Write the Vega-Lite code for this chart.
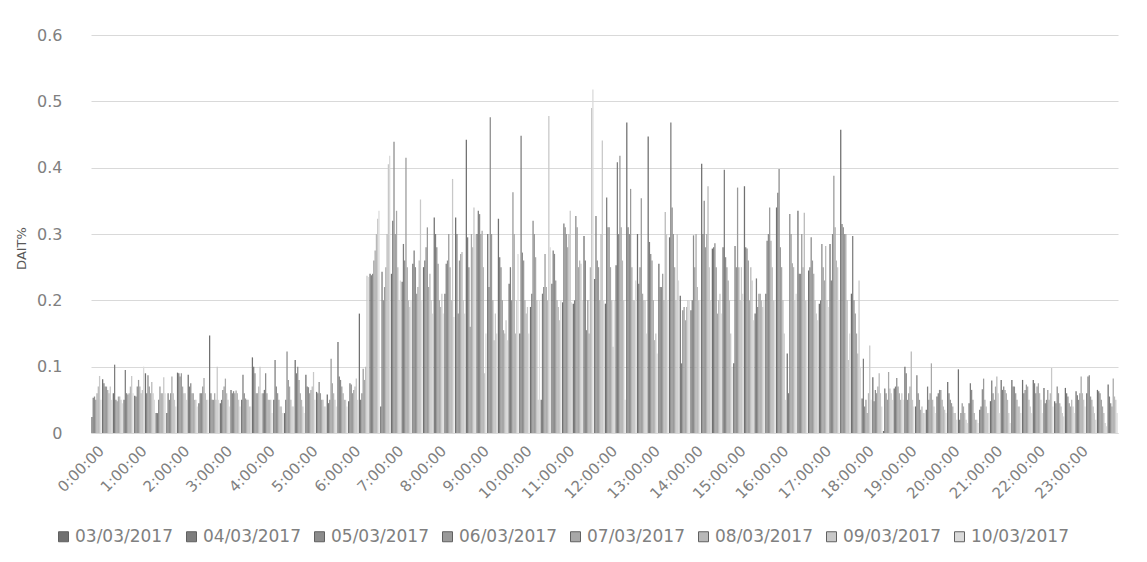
{"$schema":"https://vega.github.io/schema/vega-lite/v6.json","width":1027,"height":398,"autosize":{"type":"none"},"padding":{"left":91,"top":35,"right":29,"bottom":129},"background":"white","config":{"view":{"stroke":null},"font":"DejaVu Sans"},
"data":{"values":[
{"t":"0:00:00","d":"03/03/2017","v":0.024},{"t":"0:00:00","d":"04/03/2017","v":0.053},{"t":"0:00:00","d":"05/03/2017","v":0.055},{"t":"0:00:00","d":"06/03/2017","v":0.05},{"t":"0:00:00","d":"07/03/2017","v":0.06},{"t":"0:00:00","d":"08/03/2017","v":0.07},{"t":"0:00:00","d":"09/03/2017","v":0.086},{"t":"0:00:00","d":"10/03/2017","v":0.05},
{"t":"0:15:00","d":"03/03/2017","v":0.081},{"t":"0:15:00","d":"04/03/2017","v":0.075},{"t":"0:15:00","d":"05/03/2017","v":0.07},{"t":"0:15:00","d":"06/03/2017","v":0.07},{"t":"0:15:00","d":"07/03/2017","v":0.065},{"t":"0:15:00","d":"08/03/2017","v":0.06},{"t":"0:15:00","d":"09/03/2017","v":0.07},{"t":"0:15:00","d":"10/03/2017","v":0.05},
{"t":"0:30:00","d":"03/03/2017","v":0.06},{"t":"0:30:00","d":"04/03/2017","v":0.103},{"t":"0:30:00","d":"05/03/2017","v":0.05},{"t":"0:30:00","d":"06/03/2017","v":0.048},{"t":"0:30:00","d":"07/03/2017","v":0.055},{"t":"0:30:00","d":"08/03/2017","v":0.055},{"t":"0:30:00","d":"09/03/2017","v":0.05},{"t":"0:30:00","d":"10/03/2017","v":0.045},
{"t":"0:45:00","d":"03/03/2017","v":0.05},{"t":"0:45:00","d":"04/03/2017","v":0.095},{"t":"0:45:00","d":"05/03/2017","v":0.06},{"t":"0:45:00","d":"06/03/2017","v":0.058},{"t":"0:45:00","d":"07/03/2017","v":0.06},{"t":"0:45:00","d":"08/03/2017","v":0.07},{"t":"0:45:00","d":"09/03/2017","v":0.086},{"t":"0:45:00","d":"10/03/2017","v":0.06},
{"t":"1:00:00","d":"03/03/2017","v":0.056},{"t":"1:00:00","d":"04/03/2017","v":0.055},{"t":"1:00:00","d":"05/03/2017","v":0.07},{"t":"1:00:00","d":"06/03/2017","v":0.08},{"t":"1:00:00","d":"07/03/2017","v":0.07},{"t":"1:00:00","d":"08/03/2017","v":0.06},{"t":"1:00:00","d":"09/03/2017","v":0.065},{"t":"1:00:00","d":"10/03/2017","v":0.1},
{"t":"1:15:00","d":"03/03/2017","v":0.09},{"t":"1:15:00","d":"04/03/2017","v":0.06},{"t":"1:15:00","d":"05/03/2017","v":0.087},{"t":"1:15:00","d":"06/03/2017","v":0.07},{"t":"1:15:00","d":"07/03/2017","v":0.06},{"t":"1:15:00","d":"08/03/2017","v":0.077},{"t":"1:15:00","d":"09/03/2017","v":0.06},{"t":"1:15:00","d":"10/03/2017","v":0.05},
{"t":"1:30:00","d":"03/03/2017","v":0.03},{"t":"1:30:00","d":"04/03/2017","v":0.03},{"t":"1:30:00","d":"05/03/2017","v":0.05},{"t":"1:30:00","d":"06/03/2017","v":0.07},{"t":"1:30:00","d":"07/03/2017","v":0.06},{"t":"1:30:00","d":"08/03/2017","v":0.06},{"t":"1:30:00","d":"09/03/2017","v":0.084},{"t":"1:30:00","d":"10/03/2017","v":0.06},
{"t":"1:45:00","d":"03/03/2017","v":0.03},{"t":"1:45:00","d":"04/03/2017","v":0.06},{"t":"1:45:00","d":"05/03/2017","v":0.05},{"t":"1:45:00","d":"06/03/2017","v":0.06},{"t":"1:45:00","d":"07/03/2017","v":0.085},{"t":"1:45:00","d":"08/03/2017","v":0.06},{"t":"1:45:00","d":"09/03/2017","v":0.05},{"t":"1:45:00","d":"10/03/2017","v":0.04},
{"t":"2:00:00","d":"03/03/2017","v":0.091},{"t":"2:00:00","d":"04/03/2017","v":0.09},{"t":"2:00:00","d":"05/03/2017","v":0.085},{"t":"2:00:00","d":"06/03/2017","v":0.09},{"t":"2:00:00","d":"07/03/2017","v":0.07},{"t":"2:00:00","d":"08/03/2017","v":0.06},{"t":"2:00:00","d":"09/03/2017","v":0.06},{"t":"2:00:00","d":"10/03/2017","v":0.05},
{"t":"2:15:00","d":"03/03/2017","v":0.088},{"t":"2:15:00","d":"04/03/2017","v":0.07},{"t":"2:15:00","d":"05/03/2017","v":0.075},{"t":"2:15:00","d":"06/03/2017","v":0.06},{"t":"2:15:00","d":"07/03/2017","v":0.06},{"t":"2:15:00","d":"08/03/2017","v":0.05},{"t":"2:15:00","d":"09/03/2017","v":0.05},{"t":"2:15:00","d":"10/03/2017","v":0.04},
{"t":"2:30:00","d":"03/03/2017","v":0.045},{"t":"2:30:00","d":"04/03/2017","v":0.06},{"t":"2:30:00","d":"05/03/2017","v":0.06},{"t":"2:30:00","d":"06/03/2017","v":0.07},{"t":"2:30:00","d":"07/03/2017","v":0.083},{"t":"2:30:00","d":"08/03/2017","v":0.06},{"t":"2:30:00","d":"09/03/2017","v":0.05},{"t":"2:30:00","d":"10/03/2017","v":0.05},
{"t":"2:45:00","d":"03/03/2017","v":0.147},{"t":"2:45:00","d":"04/03/2017","v":0.06},{"t":"2:45:00","d":"05/03/2017","v":0.05},{"t":"2:45:00","d":"06/03/2017","v":0.05},{"t":"2:45:00","d":"07/03/2017","v":0.06},{"t":"2:45:00","d":"08/03/2017","v":0.05},{"t":"2:45:00","d":"09/03/2017","v":0.1},{"t":"2:45:00","d":"10/03/2017","v":0.05},
{"t":"3:00:00","d":"03/03/2017","v":0.045},{"t":"3:00:00","d":"04/03/2017","v":0.05},{"t":"3:00:00","d":"05/03/2017","v":0.065},{"t":"3:00:00","d":"06/03/2017","v":0.07},{"t":"3:00:00","d":"07/03/2017","v":0.082},{"t":"3:00:00","d":"08/03/2017","v":0.06},{"t":"3:00:00","d":"09/03/2017","v":0.05},{"t":"3:00:00","d":"10/03/2017","v":0.04},
{"t":"3:15:00","d":"03/03/2017","v":0.065},{"t":"3:15:00","d":"04/03/2017","v":0.06},{"t":"3:15:00","d":"05/03/2017","v":0.063},{"t":"3:15:00","d":"06/03/2017","v":0.06},{"t":"3:15:00","d":"07/03/2017","v":0.064},{"t":"3:15:00","d":"08/03/2017","v":0.06},{"t":"3:15:00","d":"09/03/2017","v":0.05},{"t":"3:15:00","d":"10/03/2017","v":0.04},
{"t":"3:30:00","d":"03/03/2017","v":0.05},{"t":"3:30:00","d":"04/03/2017","v":0.088},{"t":"3:30:00","d":"05/03/2017","v":0.06},{"t":"3:30:00","d":"06/03/2017","v":0.052},{"t":"3:30:00","d":"07/03/2017","v":0.05},{"t":"3:30:00","d":"08/03/2017","v":0.05},{"t":"3:30:00","d":"09/03/2017","v":0.04},{"t":"3:30:00","d":"10/03/2017","v":0.04},
{"t":"3:45:00","d":"03/03/2017","v":0.114},{"t":"3:45:00","d":"04/03/2017","v":0.1},{"t":"3:45:00","d":"05/03/2017","v":0.09},{"t":"3:45:00","d":"06/03/2017","v":0.06},{"t":"3:45:00","d":"07/03/2017","v":0.06},{"t":"3:45:00","d":"08/03/2017","v":0.07},{"t":"3:45:00","d":"09/03/2017","v":0.1},{"t":"3:45:00","d":"10/03/2017","v":0.06},
{"t":"4:00:00","d":"03/03/2017","v":0.06},{"t":"4:00:00","d":"04/03/2017","v":0.065},{"t":"4:00:00","d":"05/03/2017","v":0.09},{"t":"4:00:00","d":"06/03/2017","v":0.06},{"t":"4:00:00","d":"07/03/2017","v":0.05},{"t":"4:00:00","d":"08/03/2017","v":0.05},{"t":"4:00:00","d":"09/03/2017","v":0.05},{"t":"4:00:00","d":"10/03/2017","v":0.03},
{"t":"4:15:00","d":"03/03/2017","v":0.05},{"t":"4:15:00","d":"04/03/2017","v":0.11},{"t":"4:15:00","d":"05/03/2017","v":0.07},{"t":"4:15:00","d":"06/03/2017","v":0.06},{"t":"4:15:00","d":"07/03/2017","v":0.05},{"t":"4:15:00","d":"08/03/2017","v":0.04},{"t":"4:15:00","d":"09/03/2017","v":0.04},{"t":"4:15:00","d":"10/03/2017","v":0.03},
{"t":"4:30:00","d":"03/03/2017","v":0.03},{"t":"4:30:00","d":"04/03/2017","v":0.05},{"t":"4:30:00","d":"05/03/2017","v":0.123},{"t":"4:30:00","d":"06/03/2017","v":0.08},{"t":"4:30:00","d":"07/03/2017","v":0.07},{"t":"4:30:00","d":"08/03/2017","v":0.05},{"t":"4:30:00","d":"09/03/2017","v":0.04},{"t":"4:30:00","d":"10/03/2017","v":0.04},
{"t":"4:45:00","d":"03/03/2017","v":0.11},{"t":"4:45:00","d":"04/03/2017","v":0.09},{"t":"4:45:00","d":"05/03/2017","v":0.1},{"t":"4:45:00","d":"06/03/2017","v":0.08},{"t":"4:45:00","d":"07/03/2017","v":0.06},{"t":"4:45:00","d":"08/03/2017","v":0.05},{"t":"4:45:00","d":"09/03/2017","v":0.04},{"t":"4:45:00","d":"10/03/2017","v":0.03},
{"t":"5:00:00","d":"03/03/2017","v":0.088},{"t":"5:00:00","d":"04/03/2017","v":0.07},{"t":"5:00:00","d":"05/03/2017","v":0.069},{"t":"5:00:00","d":"06/03/2017","v":0.06},{"t":"5:00:00","d":"07/03/2017","v":0.065},{"t":"5:00:00","d":"08/03/2017","v":0.07},{"t":"5:00:00","d":"09/03/2017","v":0.092},{"t":"5:00:00","d":"10/03/2017","v":0.05},
{"t":"5:15:00","d":"03/03/2017","v":0.062},{"t":"5:15:00","d":"04/03/2017","v":0.06},{"t":"5:15:00","d":"05/03/2017","v":0.077},{"t":"5:15:00","d":"06/03/2017","v":0.06},{"t":"5:15:00","d":"07/03/2017","v":0.05},{"t":"5:15:00","d":"08/03/2017","v":0.05},{"t":"5:15:00","d":"09/03/2017","v":0.04},{"t":"5:15:00","d":"10/03/2017","v":0.04},
{"t":"5:30:00","d":"03/03/2017","v":0.058},{"t":"5:30:00","d":"04/03/2017","v":0.045},{"t":"5:30:00","d":"05/03/2017","v":0.05},{"t":"5:30:00","d":"06/03/2017","v":0.112},{"t":"5:30:00","d":"07/03/2017","v":0.075},{"t":"5:30:00","d":"08/03/2017","v":0.06},{"t":"5:30:00","d":"09/03/2017","v":0.05},{"t":"5:30:00","d":"10/03/2017","v":0.04},
{"t":"5:45:00","d":"03/03/2017","v":0.137},{"t":"5:45:00","d":"04/03/2017","v":0.085},{"t":"5:45:00","d":"05/03/2017","v":0.08},{"t":"5:45:00","d":"06/03/2017","v":0.07},{"t":"5:45:00","d":"07/03/2017","v":0.06},{"t":"5:45:00","d":"08/03/2017","v":0.05},{"t":"5:45:00","d":"09/03/2017","v":0.05},{"t":"5:45:00","d":"10/03/2017","v":0.04},
{"t":"6:00:00","d":"03/03/2017","v":0.048},{"t":"6:00:00","d":"04/03/2017","v":0.075},{"t":"6:00:00","d":"05/03/2017","v":0.073},{"t":"6:00:00","d":"06/03/2017","v":0.06},{"t":"6:00:00","d":"07/03/2017","v":0.065},{"t":"6:00:00","d":"08/03/2017","v":0.07},{"t":"6:00:00","d":"09/03/2017","v":0.082},{"t":"6:00:00","d":"10/03/2017","v":0.05},
{"t":"6:15:00","d":"03/03/2017","v":0.18},{"t":"6:15:00","d":"04/03/2017","v":0.05},{"t":"6:15:00","d":"05/03/2017","v":0.06},{"t":"6:15:00","d":"06/03/2017","v":0.097},{"t":"6:15:00","d":"07/03/2017","v":0.08},{"t":"6:15:00","d":"08/03/2017","v":0.1},{"t":"6:15:00","d":"09/03/2017","v":0.237},{"t":"6:15:00","d":"10/03/2017","v":0.235},
{"t":"6:30:00","d":"03/03/2017","v":0.24},{"t":"6:30:00","d":"04/03/2017","v":0.238},{"t":"6:30:00","d":"05/03/2017","v":0.24},{"t":"6:30:00","d":"06/03/2017","v":0.26},{"t":"6:30:00","d":"07/03/2017","v":0.275},{"t":"6:30:00","d":"08/03/2017","v":0.3},{"t":"6:30:00","d":"09/03/2017","v":0.323},{"t":"6:30:00","d":"10/03/2017","v":0.335},
{"t":"6:45:00","d":"03/03/2017","v":0.04},{"t":"6:45:00","d":"04/03/2017","v":0.243},{"t":"6:45:00","d":"05/03/2017","v":0.2},{"t":"6:45:00","d":"06/03/2017","v":0.22},{"t":"6:45:00","d":"07/03/2017","v":0.25},{"t":"6:45:00","d":"08/03/2017","v":0.3},{"t":"6:45:00","d":"09/03/2017","v":0.405},{"t":"6:45:00","d":"10/03/2017","v":0.418},
{"t":"7:00:00","d":"03/03/2017","v":0.24},{"t":"7:00:00","d":"04/03/2017","v":0.32},{"t":"7:00:00","d":"05/03/2017","v":0.439},{"t":"7:00:00","d":"06/03/2017","v":0.3},{"t":"7:00:00","d":"07/03/2017","v":0.335},{"t":"7:00:00","d":"08/03/2017","v":0.25},{"t":"7:00:00","d":"09/03/2017","v":0.2},{"t":"7:00:00","d":"10/03/2017","v":0.23},
{"t":"7:15:00","d":"03/03/2017","v":0.228},{"t":"7:15:00","d":"04/03/2017","v":0.285},{"t":"7:15:00","d":"05/03/2017","v":0.26},{"t":"7:15:00","d":"06/03/2017","v":0.415},{"t":"7:15:00","d":"07/03/2017","v":0.25},{"t":"7:15:00","d":"08/03/2017","v":0.2},{"t":"7:15:00","d":"09/03/2017","v":0.19},{"t":"7:15:00","d":"10/03/2017","v":0.2},
{"t":"7:30:00","d":"03/03/2017","v":0.255},{"t":"7:30:00","d":"04/03/2017","v":0.275},{"t":"7:30:00","d":"05/03/2017","v":0.25},{"t":"7:30:00","d":"06/03/2017","v":0.21},{"t":"7:30:00","d":"07/03/2017","v":0.22},{"t":"7:30:00","d":"08/03/2017","v":0.26},{"t":"7:30:00","d":"09/03/2017","v":0.352},{"t":"7:30:00","d":"10/03/2017","v":0.2},
{"t":"7:45:00","d":"03/03/2017","v":0.25},{"t":"7:45:00","d":"04/03/2017","v":0.26},{"t":"7:45:00","d":"05/03/2017","v":0.28},{"t":"7:45:00","d":"06/03/2017","v":0.31},{"t":"7:45:00","d":"07/03/2017","v":0.22},{"t":"7:45:00","d":"08/03/2017","v":0.24},{"t":"7:45:00","d":"09/03/2017","v":0.2},{"t":"7:45:00","d":"10/03/2017","v":0.18},
{"t":"8:00:00","d":"03/03/2017","v":0.325},{"t":"8:00:00","d":"04/03/2017","v":0.3},{"t":"8:00:00","d":"05/03/2017","v":0.28},{"t":"8:00:00","d":"06/03/2017","v":0.255},{"t":"8:00:00","d":"07/03/2017","v":0.2},{"t":"8:00:00","d":"08/03/2017","v":0.19},{"t":"8:00:00","d":"09/03/2017","v":0.21},{"t":"8:00:00","d":"10/03/2017","v":0.18},
{"t":"8:15:00","d":"03/03/2017","v":0.21},{"t":"8:15:00","d":"04/03/2017","v":0.255},{"t":"8:15:00","d":"05/03/2017","v":0.26},{"t":"8:15:00","d":"06/03/2017","v":0.3},{"t":"8:15:00","d":"07/03/2017","v":0.25},{"t":"8:15:00","d":"08/03/2017","v":0.2},{"t":"8:15:00","d":"09/03/2017","v":0.383},{"t":"8:15:00","d":"10/03/2017","v":0.175},
{"t":"8:30:00","d":"03/03/2017","v":0.325},{"t":"8:30:00","d":"04/03/2017","v":0.3},{"t":"8:30:00","d":"05/03/2017","v":0.18},{"t":"8:30:00","d":"06/03/2017","v":0.26},{"t":"8:30:00","d":"07/03/2017","v":0.27},{"t":"8:30:00","d":"08/03/2017","v":0.273},{"t":"8:30:00","d":"09/03/2017","v":0.2},{"t":"8:30:00","d":"10/03/2017","v":0.18},
{"t":"8:45:00","d":"03/03/2017","v":0.442},{"t":"8:45:00","d":"04/03/2017","v":0.295},{"t":"8:45:00","d":"05/03/2017","v":0.25},{"t":"8:45:00","d":"06/03/2017","v":0.16},{"t":"8:45:00","d":"07/03/2017","v":0.3},{"t":"8:45:00","d":"08/03/2017","v":0.28},{"t":"8:45:00","d":"09/03/2017","v":0.34},{"t":"8:45:00","d":"10/03/2017","v":0.3},
{"t":"9:00:00","d":"03/03/2017","v":0.3},{"t":"9:00:00","d":"04/03/2017","v":0.335},{"t":"9:00:00","d":"05/03/2017","v":0.33},{"t":"9:00:00","d":"06/03/2017","v":0.3},{"t":"9:00:00","d":"07/03/2017","v":0.305},{"t":"9:00:00","d":"08/03/2017","v":0.25},{"t":"9:00:00","d":"09/03/2017","v":0.09},{"t":"9:00:00","d":"10/03/2017","v":0.15},
{"t":"9:15:00","d":"03/03/2017","v":0.3},{"t":"9:15:00","d":"04/03/2017","v":0.22},{"t":"9:15:00","d":"05/03/2017","v":0.476},{"t":"9:15:00","d":"06/03/2017","v":0.3},{"t":"9:15:00","d":"07/03/2017","v":0.2},{"t":"9:15:00","d":"08/03/2017","v":0.14},{"t":"9:15:00","d":"09/03/2017","v":0.18},{"t":"9:15:00","d":"10/03/2017","v":0.15},
{"t":"9:30:00","d":"03/03/2017","v":0.323},{"t":"9:30:00","d":"04/03/2017","v":0.265},{"t":"9:30:00","d":"05/03/2017","v":0.25},{"t":"9:30:00","d":"06/03/2017","v":0.2},{"t":"9:30:00","d":"07/03/2017","v":0.155},{"t":"9:30:00","d":"08/03/2017","v":0.15},{"t":"9:30:00","d":"09/03/2017","v":0.17},{"t":"9:30:00","d":"10/03/2017","v":0.14},
{"t":"9:45:00","d":"03/03/2017","v":0.225},{"t":"9:45:00","d":"04/03/2017","v":0.25},{"t":"9:45:00","d":"05/03/2017","v":0.2},{"t":"9:45:00","d":"06/03/2017","v":0.363},{"t":"9:45:00","d":"07/03/2017","v":0.3},{"t":"9:45:00","d":"08/03/2017","v":0.15},{"t":"9:45:00","d":"09/03/2017","v":0.2},{"t":"9:45:00","d":"10/03/2017","v":0.27},
{"t":"10:00:00","d":"03/03/2017","v":0.15},{"t":"10:00:00","d":"04/03/2017","v":0.448},{"t":"10:00:00","d":"05/03/2017","v":0.272},{"t":"10:00:00","d":"06/03/2017","v":0.26},{"t":"10:00:00","d":"07/03/2017","v":0.2},{"t":"10:00:00","d":"08/03/2017","v":0.18},{"t":"10:00:00","d":"09/03/2017","v":0.19},{"t":"10:00:00","d":"10/03/2017","v":0.15},
{"t":"10:15:00","d":"03/03/2017","v":0.19},{"t":"10:15:00","d":"04/03/2017","v":0.21},{"t":"10:15:00","d":"05/03/2017","v":0.32},{"t":"10:15:00","d":"06/03/2017","v":0.3},{"t":"10:15:00","d":"07/03/2017","v":0.265},{"t":"10:15:00","d":"08/03/2017","v":0.2},{"t":"10:15:00","d":"09/03/2017","v":0.05},{"t":"10:15:00","d":"10/03/2017","v":0.2},
{"t":"10:30:00","d":"03/03/2017","v":0.05},{"t":"10:30:00","d":"04/03/2017","v":0.21},{"t":"10:30:00","d":"05/03/2017","v":0.22},{"t":"10:30:00","d":"06/03/2017","v":0.27},{"t":"10:30:00","d":"07/03/2017","v":0.22},{"t":"10:30:00","d":"08/03/2017","v":0.2},{"t":"10:30:00","d":"09/03/2017","v":0.478},{"t":"10:30:00","d":"10/03/2017","v":0.28},
{"t":"10:45:00","d":"03/03/2017","v":0.225},{"t":"10:45:00","d":"04/03/2017","v":0.275},{"t":"10:45:00","d":"05/03/2017","v":0.27},{"t":"10:45:00","d":"06/03/2017","v":0.23},{"t":"10:45:00","d":"07/03/2017","v":0.2},{"t":"10:45:00","d":"08/03/2017","v":0.19},{"t":"10:45:00","d":"09/03/2017","v":0.17},{"t":"10:45:00","d":"10/03/2017","v":0.2},
{"t":"11:00:00","d":"03/03/2017","v":0.197},{"t":"11:00:00","d":"04/03/2017","v":0.316},{"t":"11:00:00","d":"05/03/2017","v":0.31},{"t":"11:00:00","d":"06/03/2017","v":0.3},{"t":"11:00:00","d":"07/03/2017","v":0.28},{"t":"11:00:00","d":"08/03/2017","v":0.3},{"t":"11:00:00","d":"09/03/2017","v":0.335},{"t":"11:00:00","d":"10/03/2017","v":0.197},
{"t":"11:15:00","d":"03/03/2017","v":0.195},{"t":"11:15:00","d":"04/03/2017","v":0.2},{"t":"11:15:00","d":"05/03/2017","v":0.327},{"t":"11:15:00","d":"06/03/2017","v":0.31},{"t":"11:15:00","d":"07/03/2017","v":0.25},{"t":"11:15:00","d":"08/03/2017","v":0.26},{"t":"11:15:00","d":"09/03/2017","v":0.255},{"t":"11:15:00","d":"10/03/2017","v":0.2},
{"t":"11:30:00","d":"03/03/2017","v":0.297},{"t":"11:30:00","d":"04/03/2017","v":0.26},{"t":"11:30:00","d":"05/03/2017","v":0.155},{"t":"11:30:00","d":"06/03/2017","v":0.2},{"t":"11:30:00","d":"07/03/2017","v":0.15},{"t":"11:30:00","d":"08/03/2017","v":0.25},{"t":"11:30:00","d":"09/03/2017","v":0.49},{"t":"11:30:00","d":"10/03/2017","v":0.518},
{"t":"11:45:00","d":"03/03/2017","v":0.232},{"t":"11:45:00","d":"04/03/2017","v":0.327},{"t":"11:45:00","d":"05/03/2017","v":0.26},{"t":"11:45:00","d":"06/03/2017","v":0.25},{"t":"11:45:00","d":"07/03/2017","v":0.2},{"t":"11:45:00","d":"08/03/2017","v":0.3},{"t":"11:45:00","d":"09/03/2017","v":0.441},{"t":"11:45:00","d":"10/03/2017","v":0.2},
{"t":"12:00:00","d":"03/03/2017","v":0.195},{"t":"12:00:00","d":"04/03/2017","v":0.355},{"t":"12:00:00","d":"05/03/2017","v":0.31},{"t":"12:00:00","d":"06/03/2017","v":0.31},{"t":"12:00:00","d":"07/03/2017","v":0.25},{"t":"12:00:00","d":"08/03/2017","v":0.2},{"t":"12:00:00","d":"09/03/2017","v":0.13},{"t":"12:00:00","d":"10/03/2017","v":0.2},
{"t":"12:15:00","d":"03/03/2017","v":0.253},{"t":"12:15:00","d":"04/03/2017","v":0.408},{"t":"12:15:00","d":"05/03/2017","v":0.3},{"t":"12:15:00","d":"06/03/2017","v":0.418},{"t":"12:15:00","d":"07/03/2017","v":0.31},{"t":"12:15:00","d":"08/03/2017","v":0.26},{"t":"12:15:00","d":"09/03/2017","v":0.2},{"t":"12:15:00","d":"10/03/2017","v":0.05},
{"t":"12:30:00","d":"03/03/2017","v":0.468},{"t":"12:30:00","d":"04/03/2017","v":0.31},{"t":"12:30:00","d":"05/03/2017","v":0.3},{"t":"12:30:00","d":"06/03/2017","v":0.368},{"t":"12:30:00","d":"07/03/2017","v":0.25},{"t":"12:30:00","d":"08/03/2017","v":0.2},{"t":"12:30:00","d":"09/03/2017","v":0.2},{"t":"12:30:00","d":"10/03/2017","v":0.23},
{"t":"12:45:00","d":"03/03/2017","v":0.3},{"t":"12:45:00","d":"04/03/2017","v":0.225},{"t":"12:45:00","d":"05/03/2017","v":0.25},{"t":"12:45:00","d":"06/03/2017","v":0.354},{"t":"12:45:00","d":"07/03/2017","v":0.21},{"t":"12:45:00","d":"08/03/2017","v":0.2},{"t":"12:45:00","d":"09/03/2017","v":0.2},{"t":"12:45:00","d":"10/03/2017","v":0.15},
{"t":"13:00:00","d":"03/03/2017","v":0.447},{"t":"13:00:00","d":"04/03/2017","v":0.288},{"t":"13:00:00","d":"05/03/2017","v":0.27},{"t":"13:00:00","d":"06/03/2017","v":0.26},{"t":"13:00:00","d":"07/03/2017","v":0.2},{"t":"13:00:00","d":"08/03/2017","v":0.14},{"t":"13:00:00","d":"09/03/2017","v":0.15},{"t":"13:00:00","d":"10/03/2017","v":0.12},
{"t":"13:15:00","d":"03/03/2017","v":0.255},{"t":"13:15:00","d":"04/03/2017","v":0.22},{"t":"13:15:00","d":"05/03/2017","v":0.22},{"t":"13:15:00","d":"06/03/2017","v":0.24},{"t":"13:15:00","d":"07/03/2017","v":0.2},{"t":"13:15:00","d":"08/03/2017","v":0.333},{"t":"13:15:00","d":"09/03/2017","v":0.3},{"t":"13:15:00","d":"10/03/2017","v":0.2},
{"t":"13:30:00","d":"03/03/2017","v":0.295},{"t":"13:30:00","d":"04/03/2017","v":0.468},{"t":"13:30:00","d":"05/03/2017","v":0.34},{"t":"13:30:00","d":"06/03/2017","v":0.3},{"t":"13:30:00","d":"07/03/2017","v":0.25},{"t":"13:30:00","d":"08/03/2017","v":0.2},{"t":"13:30:00","d":"09/03/2017","v":0.3},{"t":"13:30:00","d":"10/03/2017","v":0.23},
{"t":"13:45:00","d":"03/03/2017","v":0.207},{"t":"13:45:00","d":"04/03/2017","v":0.105},{"t":"13:45:00","d":"05/03/2017","v":0.185},{"t":"13:45:00","d":"06/03/2017","v":0.19},{"t":"13:45:00","d":"07/03/2017","v":0.17},{"t":"13:45:00","d":"08/03/2017","v":0.19},{"t":"13:45:00","d":"09/03/2017","v":0.2},{"t":"13:45:00","d":"10/03/2017","v":0.2},
{"t":"14:00:00","d":"03/03/2017","v":0.185},{"t":"14:00:00","d":"04/03/2017","v":0.2},{"t":"14:00:00","d":"05/03/2017","v":0.298},{"t":"14:00:00","d":"06/03/2017","v":0.25},{"t":"14:00:00","d":"07/03/2017","v":0.3},{"t":"14:00:00","d":"08/03/2017","v":0.22},{"t":"14:00:00","d":"09/03/2017","v":0.2},{"t":"14:00:00","d":"10/03/2017","v":0.2},
{"t":"14:15:00","d":"03/03/2017","v":0.406},{"t":"14:15:00","d":"04/03/2017","v":0.3},{"t":"14:15:00","d":"05/03/2017","v":0.35},{"t":"14:15:00","d":"06/03/2017","v":0.28},{"t":"14:15:00","d":"07/03/2017","v":0.3},{"t":"14:15:00","d":"08/03/2017","v":0.372},{"t":"14:15:00","d":"09/03/2017","v":0.25},{"t":"14:15:00","d":"10/03/2017","v":0.2},
{"t":"14:30:00","d":"03/03/2017","v":0.278},{"t":"14:30:00","d":"04/03/2017","v":0.28},{"t":"14:30:00","d":"05/03/2017","v":0.286},{"t":"14:30:00","d":"06/03/2017","v":0.25},{"t":"14:30:00","d":"07/03/2017","v":0.18},{"t":"14:30:00","d":"08/03/2017","v":0.2},{"t":"14:30:00","d":"09/03/2017","v":0.21},{"t":"14:30:00","d":"10/03/2017","v":0.18},
{"t":"14:45:00","d":"03/03/2017","v":0.28},{"t":"14:45:00","d":"04/03/2017","v":0.397},{"t":"14:45:00","d":"05/03/2017","v":0.265},{"t":"14:45:00","d":"06/03/2017","v":0.25},{"t":"14:45:00","d":"07/03/2017","v":0.23},{"t":"14:45:00","d":"08/03/2017","v":0.2},{"t":"14:45:00","d":"09/03/2017","v":0.15},{"t":"14:45:00","d":"10/03/2017","v":0.1},
{"t":"15:00:00","d":"03/03/2017","v":0.105},{"t":"15:00:00","d":"04/03/2017","v":0.282},{"t":"15:00:00","d":"05/03/2017","v":0.25},{"t":"15:00:00","d":"06/03/2017","v":0.37},{"t":"15:00:00","d":"07/03/2017","v":0.25},{"t":"15:00:00","d":"08/03/2017","v":0.2},{"t":"15:00:00","d":"09/03/2017","v":0.25},{"t":"15:00:00","d":"10/03/2017","v":0.21},
{"t":"15:15:00","d":"03/03/2017","v":0.372},{"t":"15:15:00","d":"04/03/2017","v":0.28},{"t":"15:15:00","d":"05/03/2017","v":0.278},{"t":"15:15:00","d":"06/03/2017","v":0.26},{"t":"15:15:00","d":"07/03/2017","v":0.2},{"t":"15:15:00","d":"08/03/2017","v":0.25},{"t":"15:15:00","d":"09/03/2017","v":0.23},{"t":"15:15:00","d":"10/03/2017","v":0.17},
{"t":"15:30:00","d":"03/03/2017","v":0.18},{"t":"15:30:00","d":"04/03/2017","v":0.233},{"t":"15:30:00","d":"05/03/2017","v":0.19},{"t":"15:30:00","d":"06/03/2017","v":0.21},{"t":"15:30:00","d":"07/03/2017","v":0.21},{"t":"15:30:00","d":"08/03/2017","v":0.2},{"t":"15:30:00","d":"09/03/2017","v":0.19},{"t":"15:30:00","d":"10/03/2017","v":0.2},
{"t":"15:45:00","d":"03/03/2017","v":0.21},{"t":"15:45:00","d":"04/03/2017","v":0.29},{"t":"15:45:00","d":"05/03/2017","v":0.3},{"t":"15:45:00","d":"06/03/2017","v":0.34},{"t":"15:45:00","d":"07/03/2017","v":0.29},{"t":"15:45:00","d":"08/03/2017","v":0.25},{"t":"15:45:00","d":"09/03/2017","v":0.2},{"t":"15:45:00","d":"10/03/2017","v":0.2},
{"t":"16:00:00","d":"03/03/2017","v":0.34},{"t":"16:00:00","d":"04/03/2017","v":0.362},{"t":"16:00:00","d":"05/03/2017","v":0.398},{"t":"16:00:00","d":"06/03/2017","v":0.28},{"t":"16:00:00","d":"07/03/2017","v":0.25},{"t":"16:00:00","d":"08/03/2017","v":0.2},{"t":"16:00:00","d":"09/03/2017","v":0.15},{"t":"16:00:00","d":"10/03/2017","v":0.05},
{"t":"16:15:00","d":"03/03/2017","v":0.12},{"t":"16:15:00","d":"04/03/2017","v":0.06},{"t":"16:15:00","d":"05/03/2017","v":0.33},{"t":"16:15:00","d":"06/03/2017","v":0.3},{"t":"16:15:00","d":"07/03/2017","v":0.256},{"t":"16:15:00","d":"08/03/2017","v":0.25},{"t":"16:15:00","d":"09/03/2017","v":0.2},{"t":"16:15:00","d":"10/03/2017","v":0.21},
{"t":"16:30:00","d":"03/03/2017","v":0.335},{"t":"16:30:00","d":"04/03/2017","v":0.24},{"t":"16:30:00","d":"05/03/2017","v":0.24},{"t":"16:30:00","d":"06/03/2017","v":0.3},{"t":"16:30:00","d":"07/03/2017","v":0.25},{"t":"16:30:00","d":"08/03/2017","v":0.332},{"t":"16:30:00","d":"09/03/2017","v":0.2},{"t":"16:30:00","d":"10/03/2017","v":0.2},
{"t":"16:45:00","d":"03/03/2017","v":0.245},{"t":"16:45:00","d":"04/03/2017","v":0.25},{"t":"16:45:00","d":"05/03/2017","v":0.295},{"t":"16:45:00","d":"06/03/2017","v":0.26},{"t":"16:45:00","d":"07/03/2017","v":0.24},{"t":"16:45:00","d":"08/03/2017","v":0.2},{"t":"16:45:00","d":"09/03/2017","v":0.18},{"t":"16:45:00","d":"10/03/2017","v":0.17},
{"t":"17:00:00","d":"03/03/2017","v":0.195},{"t":"17:00:00","d":"04/03/2017","v":0.2},{"t":"17:00:00","d":"05/03/2017","v":0.285},{"t":"17:00:00","d":"06/03/2017","v":0.25},{"t":"17:00:00","d":"07/03/2017","v":0.23},{"t":"17:00:00","d":"08/03/2017","v":0.282},{"t":"17:00:00","d":"09/03/2017","v":0.2},{"t":"17:00:00","d":"10/03/2017","v":0.19},
{"t":"17:15:00","d":"03/03/2017","v":0.285},{"t":"17:15:00","d":"04/03/2017","v":0.23},{"t":"17:15:00","d":"05/03/2017","v":0.3},{"t":"17:15:00","d":"06/03/2017","v":0.388},{"t":"17:15:00","d":"07/03/2017","v":0.31},{"t":"17:15:00","d":"08/03/2017","v":0.26},{"t":"17:15:00","d":"09/03/2017","v":0.25},{"t":"17:15:00","d":"10/03/2017","v":0.2},
{"t":"17:30:00","d":"03/03/2017","v":0.457},{"t":"17:30:00","d":"04/03/2017","v":0.315},{"t":"17:30:00","d":"05/03/2017","v":0.31},{"t":"17:30:00","d":"06/03/2017","v":0.3},{"t":"17:30:00","d":"07/03/2017","v":0.3},{"t":"17:30:00","d":"08/03/2017","v":0.2},{"t":"17:30:00","d":"09/03/2017","v":0.11},{"t":"17:30:00","d":"10/03/2017","v":0.15},
{"t":"17:45:00","d":"03/03/2017","v":0.21},{"t":"17:45:00","d":"04/03/2017","v":0.297},{"t":"17:45:00","d":"05/03/2017","v":0.2},{"t":"17:45:00","d":"06/03/2017","v":0.18},{"t":"17:45:00","d":"07/03/2017","v":0.15},{"t":"17:45:00","d":"08/03/2017","v":0.12},{"t":"17:45:00","d":"09/03/2017","v":0.23},{"t":"17:45:00","d":"10/03/2017","v":0.1},
{"t":"18:00:00","d":"03/03/2017","v":0.052},{"t":"18:00:00","d":"04/03/2017","v":0.112},{"t":"18:00:00","d":"05/03/2017","v":0.04},{"t":"18:00:00","d":"06/03/2017","v":0.05},{"t":"18:00:00","d":"07/03/2017","v":0.03},{"t":"18:00:00","d":"08/03/2017","v":0.06},{"t":"18:00:00","d":"09/03/2017","v":0.132},{"t":"18:00:00","d":"10/03/2017","v":0.05},
{"t":"18:15:00","d":"03/03/2017","v":0.084},{"t":"18:15:00","d":"04/03/2017","v":0.048},{"t":"18:15:00","d":"05/03/2017","v":0.065},{"t":"18:15:00","d":"06/03/2017","v":0.06},{"t":"18:15:00","d":"07/03/2017","v":0.07},{"t":"18:15:00","d":"08/03/2017","v":0.09},{"t":"18:15:00","d":"09/03/2017","v":0.06},{"t":"18:15:00","d":"10/03/2017","v":0.04},
{"t":"18:30:00","d":"03/03/2017","v":0.003},{"t":"18:30:00","d":"04/03/2017","v":0.067},{"t":"18:30:00","d":"05/03/2017","v":0.06},{"t":"18:30:00","d":"06/03/2017","v":0.05},{"t":"18:30:00","d":"07/03/2017","v":0.092},{"t":"18:30:00","d":"08/03/2017","v":0.067},{"t":"18:30:00","d":"09/03/2017","v":0.06},{"t":"18:30:00","d":"10/03/2017","v":0.05},
{"t":"18:45:00","d":"03/03/2017","v":0.067},{"t":"18:45:00","d":"04/03/2017","v":0.07},{"t":"18:45:00","d":"05/03/2017","v":0.083},{"t":"18:45:00","d":"06/03/2017","v":0.07},{"t":"18:45:00","d":"07/03/2017","v":0.06},{"t":"18:45:00","d":"08/03/2017","v":0.05},{"t":"18:45:00","d":"09/03/2017","v":0.06},{"t":"18:45:00","d":"10/03/2017","v":0.05},
{"t":"19:00:00","d":"03/03/2017","v":0.1},{"t":"19:00:00","d":"04/03/2017","v":0.09},{"t":"19:00:00","d":"05/03/2017","v":0.05},{"t":"19:00:00","d":"06/03/2017","v":0.06},{"t":"19:00:00","d":"07/03/2017","v":0.07},{"t":"19:00:00","d":"08/03/2017","v":0.123},{"t":"19:00:00","d":"09/03/2017","v":0.05},{"t":"19:00:00","d":"10/03/2017","v":0.04},
{"t":"19:15:00","d":"03/03/2017","v":0.04},{"t":"19:15:00","d":"04/03/2017","v":0.087},{"t":"19:15:00","d":"05/03/2017","v":0.06},{"t":"19:15:00","d":"06/03/2017","v":0.05},{"t":"19:15:00","d":"07/03/2017","v":0.035},{"t":"19:15:00","d":"08/03/2017","v":0.04},{"t":"19:15:00","d":"09/03/2017","v":0.03},{"t":"19:15:00","d":"10/03/2017","v":0.03},
{"t":"19:30:00","d":"03/03/2017","v":0.035},{"t":"19:30:00","d":"04/03/2017","v":0.07},{"t":"19:30:00","d":"05/03/2017","v":0.05},{"t":"19:30:00","d":"06/03/2017","v":0.06},{"t":"19:30:00","d":"07/03/2017","v":0.105},{"t":"19:30:00","d":"08/03/2017","v":0.05},{"t":"19:30:00","d":"09/03/2017","v":0.04},{"t":"19:30:00","d":"10/03/2017","v":0.03},
{"t":"19:45:00","d":"03/03/2017","v":0.055},{"t":"19:45:00","d":"04/03/2017","v":0.06},{"t":"19:45:00","d":"05/03/2017","v":0.065},{"t":"19:45:00","d":"06/03/2017","v":0.065},{"t":"19:45:00","d":"07/03/2017","v":0.05},{"t":"19:45:00","d":"08/03/2017","v":0.04},{"t":"19:45:00","d":"09/03/2017","v":0.035},{"t":"19:45:00","d":"10/03/2017","v":0.03},
{"t":"20:00:00","d":"03/03/2017","v":0.077},{"t":"20:00:00","d":"04/03/2017","v":0.06},{"t":"20:00:00","d":"05/03/2017","v":0.05},{"t":"20:00:00","d":"06/03/2017","v":0.045},{"t":"20:00:00","d":"07/03/2017","v":0.04},{"t":"20:00:00","d":"08/03/2017","v":0.03},{"t":"20:00:00","d":"09/03/2017","v":0.03},{"t":"20:00:00","d":"10/03/2017","v":0.02},
{"t":"20:15:00","d":"03/03/2017","v":0.096},{"t":"20:15:00","d":"04/03/2017","v":0.02},{"t":"20:15:00","d":"05/03/2017","v":0.03},{"t":"20:15:00","d":"06/03/2017","v":0.045},{"t":"20:15:00","d":"07/03/2017","v":0.04},{"t":"20:15:00","d":"08/03/2017","v":0.03},{"t":"20:15:00","d":"09/03/2017","v":0.02},{"t":"20:15:00","d":"10/03/2017","v":0.015},
{"t":"20:30:00","d":"03/03/2017","v":0.045},{"t":"20:30:00","d":"04/03/2017","v":0.075},{"t":"20:30:00","d":"05/03/2017","v":0.065},{"t":"20:30:00","d":"06/03/2017","v":0.05},{"t":"20:30:00","d":"07/03/2017","v":0.03},{"t":"20:30:00","d":"08/03/2017","v":0.02},{"t":"20:30:00","d":"09/03/2017","v":0.02},{"t":"20:30:00","d":"10/03/2017","v":0.015},
{"t":"20:45:00","d":"03/03/2017","v":0.035},{"t":"20:45:00","d":"04/03/2017","v":0.04},{"t":"20:45:00","d":"05/03/2017","v":0.066},{"t":"20:45:00","d":"06/03/2017","v":0.082},{"t":"20:45:00","d":"07/03/2017","v":0.05},{"t":"20:45:00","d":"08/03/2017","v":0.04},{"t":"20:45:00","d":"09/03/2017","v":0.03},{"t":"20:45:00","d":"10/03/2017","v":0.03},
{"t":"21:00:00","d":"03/03/2017","v":0.048},{"t":"21:00:00","d":"04/03/2017","v":0.079},{"t":"21:00:00","d":"05/03/2017","v":0.06},{"t":"21:00:00","d":"06/03/2017","v":0.05},{"t":"21:00:00","d":"07/03/2017","v":0.07},{"t":"21:00:00","d":"08/03/2017","v":0.085},{"t":"21:00:00","d":"09/03/2017","v":0.06},{"t":"21:00:00","d":"10/03/2017","v":0.03},
{"t":"21:15:00","d":"03/03/2017","v":0.08},{"t":"21:15:00","d":"04/03/2017","v":0.065},{"t":"21:15:00","d":"05/03/2017","v":0.07},{"t":"21:15:00","d":"06/03/2017","v":0.065},{"t":"21:15:00","d":"07/03/2017","v":0.06},{"t":"21:15:00","d":"08/03/2017","v":0.05},{"t":"21:15:00","d":"09/03/2017","v":0.03},{"t":"21:15:00","d":"10/03/2017","v":0.015},
{"t":"21:30:00","d":"03/03/2017","v":0.08},{"t":"21:30:00","d":"04/03/2017","v":0.07},{"t":"21:30:00","d":"05/03/2017","v":0.07},{"t":"21:30:00","d":"06/03/2017","v":0.06},{"t":"21:30:00","d":"07/03/2017","v":0.05},{"t":"21:30:00","d":"08/03/2017","v":0.04},{"t":"21:30:00","d":"09/03/2017","v":0.04},{"t":"21:30:00","d":"10/03/2017","v":0.03},
{"t":"21:45:00","d":"03/03/2017","v":0.08},{"t":"21:45:00","d":"04/03/2017","v":0.06},{"t":"21:45:00","d":"05/03/2017","v":0.065},{"t":"21:45:00","d":"06/03/2017","v":0.073},{"t":"21:45:00","d":"07/03/2017","v":0.07},{"t":"21:45:00","d":"08/03/2017","v":0.05},{"t":"21:45:00","d":"09/03/2017","v":0.04},{"t":"21:45:00","d":"10/03/2017","v":0.03},
{"t":"22:00:00","d":"03/03/2017","v":0.08},{"t":"22:00:00","d":"04/03/2017","v":0.075},{"t":"22:00:00","d":"05/03/2017","v":0.06},{"t":"22:00:00","d":"06/03/2017","v":0.07},{"t":"22:00:00","d":"07/03/2017","v":0.075},{"t":"22:00:00","d":"08/03/2017","v":0.06},{"t":"22:00:00","d":"09/03/2017","v":0.05},{"t":"22:00:00","d":"10/03/2017","v":0.03},
{"t":"22:15:00","d":"03/03/2017","v":0.068},{"t":"22:15:00","d":"04/03/2017","v":0.045},{"t":"22:15:00","d":"05/03/2017","v":0.05},{"t":"22:15:00","d":"06/03/2017","v":0.065},{"t":"22:15:00","d":"07/03/2017","v":0.05},{"t":"22:15:00","d":"08/03/2017","v":0.06},{"t":"22:15:00","d":"09/03/2017","v":0.098},{"t":"22:15:00","d":"10/03/2017","v":0.04},
{"t":"22:30:00","d":"03/03/2017","v":0.048},{"t":"22:30:00","d":"04/03/2017","v":0.045},{"t":"22:30:00","d":"05/03/2017","v":0.07},{"t":"22:30:00","d":"06/03/2017","v":0.06},{"t":"22:30:00","d":"07/03/2017","v":0.045},{"t":"22:30:00","d":"08/03/2017","v":0.04},{"t":"22:30:00","d":"09/03/2017","v":0.03},{"t":"22:30:00","d":"10/03/2017","v":0.025},
{"t":"22:45:00","d":"03/03/2017","v":0.068},{"t":"22:45:00","d":"04/03/2017","v":0.06},{"t":"22:45:00","d":"05/03/2017","v":0.055},{"t":"22:45:00","d":"06/03/2017","v":0.045},{"t":"22:45:00","d":"07/03/2017","v":0.04},{"t":"22:45:00","d":"08/03/2017","v":0.05},{"t":"22:45:00","d":"09/03/2017","v":0.04},{"t":"22:45:00","d":"10/03/2017","v":0.03},
{"t":"23:00:00","d":"03/03/2017","v":0.063},{"t":"23:00:00","d":"04/03/2017","v":0.057},{"t":"23:00:00","d":"05/03/2017","v":0.05},{"t":"23:00:00","d":"06/03/2017","v":0.06},{"t":"23:00:00","d":"07/03/2017","v":0.085},{"t":"23:00:00","d":"08/03/2017","v":0.06},{"t":"23:00:00","d":"09/03/2017","v":0.05},{"t":"23:00:00","d":"10/03/2017","v":0.04},
{"t":"23:15:00","d":"03/03/2017","v":0.06},{"t":"23:15:00","d":"04/03/2017","v":0.085},{"t":"23:15:00","d":"05/03/2017","v":0.087},{"t":"23:15:00","d":"06/03/2017","v":0.055},{"t":"23:15:00","d":"07/03/2017","v":0.05},{"t":"23:15:00","d":"08/03/2017","v":0.04},{"t":"23:15:00","d":"09/03/2017","v":0.03},{"t":"23:15:00","d":"10/03/2017","v":0.02},
{"t":"23:30:00","d":"03/03/2017","v":0.065},{"t":"23:30:00","d":"04/03/2017","v":0.063},{"t":"23:30:00","d":"05/03/2017","v":0.06},{"t":"23:30:00","d":"06/03/2017","v":0.05},{"t":"23:30:00","d":"07/03/2017","v":0.04},{"t":"23:30:00","d":"08/03/2017","v":0.03},{"t":"23:30:00","d":"09/03/2017","v":0.015},{"t":"23:30:00","d":"10/03/2017","v":0.01},
{"t":"23:45:00","d":"03/03/2017","v":0.073},{"t":"23:45:00","d":"04/03/2017","v":0.055},{"t":"23:45:00","d":"05/03/2017","v":0.045},{"t":"23:45:00","d":"06/03/2017","v":0.04},{"t":"23:45:00","d":"07/03/2017","v":0.082},{"t":"23:45:00","d":"08/03/2017","v":0.055},{"t":"23:45:00","d":"09/03/2017","v":0.05},{"t":"23:45:00","d":"10/03/2017","v":0.03}
]},
"mark":{"type":"bar"},
"encoding":{
"x":{"field":"t","type":"ordinal","sort":null,"scale":{"paddingInner":0.05,"paddingOuter":0.03},"axis":{"title":null,"values":["0:00:00","1:00:00","2:00:00","3:00:00","4:00:00","5:00:00","6:00:00","7:00:00","8:00:00","9:00:00","10:00:00","11:00:00","12:00:00","13:00:00","14:00:00","15:00:00","16:00:00","17:00:00","18:00:00","19:00:00","20:00:00","21:00:00","22:00:00","23:00:00"],"labelAngle":-45,"labelFontSize":15,"labelColor":"#808080","labelFont":"DejaVu Sans","ticks":false,"domainColor":"#d9d9d9","labelPadding":10,"grid":false}},
"xOffset":{"field":"d","type":"nominal","sort":null},
"y":{"field":"v","type":"quantitative","scale":{"domain":[0,0.6],"nice":false},"axis":{"title":"DAIT%","values":[0,0.1,0.2,0.3,0.4,0.5,0.6],"format":"~g","gridColor":"#d9d9d9","domain":false,"ticks":false,"labelPadding":29,"labelFontSize":16,"labelFont":"DejaVu Sans","labelColor":"#808080","titleX":-70,"titleY":213,"titleAngle":-90,"titleAlign":"center","titleBaseline":"middle","titleFontSize":13,"titleFont":"DejaVu Sans","titleColor":"#595959","titleFontWeight":"normal"}},
"color":{"field":"d","type":"nominal","scale":{"range":["#707070","#7e7e7e","#8c8c8c","#9a9a9a","#a8a8a8","#b8b8b8","#c8c8c8","#dadada"]},"legend":{"title":null,"orient":"none","direction":"horizontal","legendX":-36,"legendY":493,"symbolType":"square","symbolSize":100,"labelFontSize":17,"labelFont":"DejaVu Sans","labelColor":"#808080","columnPadding":10,"labelOffset":3,"symbolStrokeColor":"#606060","symbolStrokeWidth":1}}
}}
